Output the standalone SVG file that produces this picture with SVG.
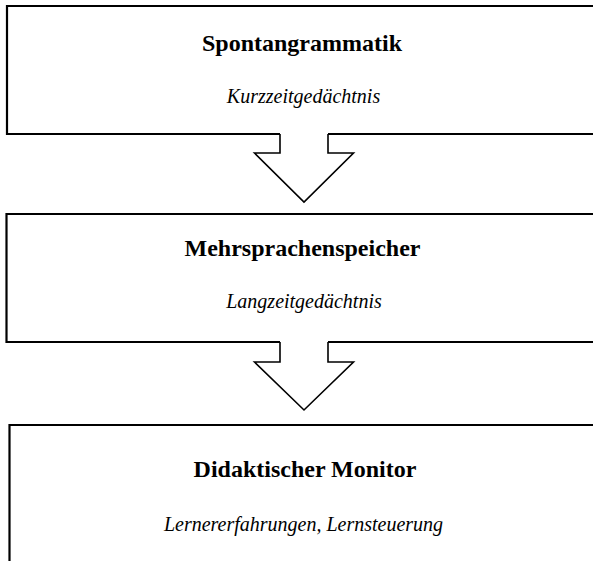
<svg xmlns="http://www.w3.org/2000/svg" width="593" height="561" viewBox="0 0 593 561">
<style>
.box{fill:none;stroke:#000;stroke-width:2.2;stroke-linejoin:miter}
.arr{fill:none;stroke:#000;stroke-width:1.6;stroke-linejoin:miter}
.t{font-family:"Liberation Serif","Times New Roman",serif;font-weight:bold;font-size:24px;text-anchor:middle;fill:#000}
.s{font-family:"Liberation Serif","Times New Roman",serif;font-style:italic;font-size:20px;text-anchor:middle;fill:#000}
</style>
<rect width="593" height="561" fill="#fff"/>
<g id="node-spontangrammatik">
<path class="box" d="M 600 6 H 7 V 134 H 280 M 328 134 H 600"/>
<text class="t" x="302" y="51">Spontangrammatik</text>
<text class="s" x="303.5" y="103">Kurzzeitgedächtnis</text>
</g>
<g id="node-mehrsprachenspeicher">
<path class="box" d="M 600 214 H 6.5 V 342 H 280 M 328 342 H 600"/>
<text class="t" x="302.5" y="256">Mehrsprachenspeicher</text>
<text class="s" x="304" y="308">Langzeitgedächtnis</text>
</g>
<g id="node-didaktischer-monitor">
<path class="box" d="M 600 425 H 9.5 V 570"/>
<text class="t" x="305" y="477">Didaktischer Monitor</text>
<text class="s" x="303.5" y="531">Lernererfahrungen, Lernsteuerung</text>
</g>
<g id="connectors">
<path class="arr" d="M 280 134 V 153 H 254.5 L 304 202 L 353.5 153 H 328 V 134"/>
<path class="arr" d="M 280 342 V 362 H 254.5 L 304 410 L 353.5 362 H 328 V 342"/>
</g>
</svg>
